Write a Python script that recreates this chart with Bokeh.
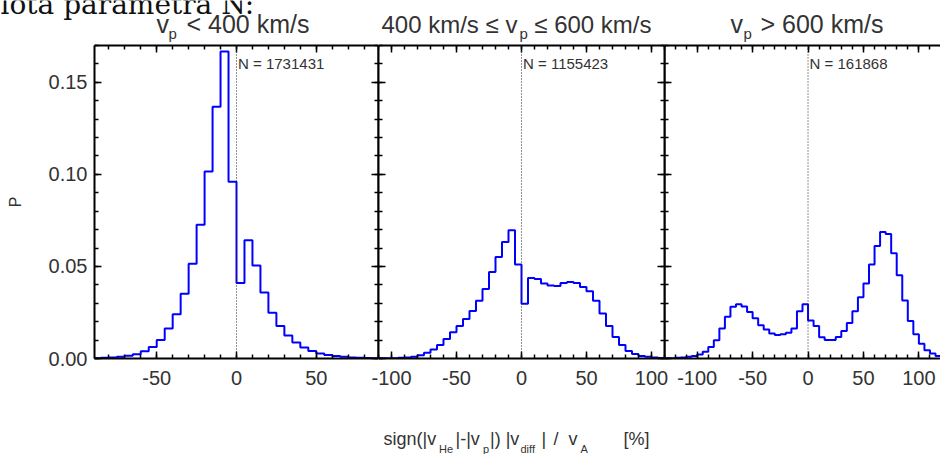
import numpy as np
from bokeh.plotting import figure
from bokeh.layouts import row, column
from bokeh.models import (Range1d, LinearAxis, SingleIntervalTicker,
                          PrintfTickFormatter, CustomJSTickFormatter,
                          CustomLabelingPolicy, Span, Label)
from bokeh.embed import file_html
from bokeh.resources import INLINE

# ---------------- data ----------------
bin_width = 5

# v_p < 400 km/s : bins from -90 to 90
slow_start = -90
slow_p = [0.0002, 0.0004, 0.0006, 0.0010, 0.0015, 0.0023, 0.0040, 0.0063,
          0.0101, 0.0163, 0.0240, 0.0351, 0.0515, 0.0727, 0.1016, 0.1367,
          0.1667, 0.0960,
          0.0410, 0.0642, 0.0505, 0.0358, 0.0248, 0.0177, 0.0125, 0.0087,
          0.0060, 0.0041, 0.0027, 0.0019, 0.0013, 0.0009, 0.0006, 0.0004,
          0.0003, 0.0002]

# 400 <= v_p <= 600 km/s : bins from -110 to 110
mid_start = -110
mid_p = [0.0001, 0.0001, 0.0002, 0.0004, 0.0006, 0.0010, 0.0018, 0.0031,
         0.0049, 0.0074, 0.0106, 0.0143, 0.0177, 0.0215, 0.0258, 0.0313,
         0.0378, 0.0470, 0.0551, 0.0633, 0.0696, 0.0510,
         0.0298, 0.0437, 0.0432, 0.0407, 0.0396, 0.0394, 0.0410, 0.0416,
         0.0410, 0.0389, 0.0365, 0.0313, 0.0244, 0.0177, 0.0117, 0.0074,
         0.0041, 0.0025, 0.0014, 0.0009, 0.0005, 0.0003]

# v_p > 600 km/s : bins from -130 to 130
fast_start = -130
fast_p = [0.0001, 0.0002, 0.0004, 0.0006, 0.0009, 0.0014, 0.0022, 0.0036,
          0.0063, 0.0099, 0.0163, 0.0227, 0.0281, 0.0295, 0.0283, 0.0252,
          0.0219, 0.0181, 0.0157, 0.0136, 0.0128, 0.0132, 0.0140, 0.0163,
          0.0256, 0.0295,
          0.0206, 0.0176, 0.0116, 0.0100, 0.0100, 0.0117, 0.0150, 0.0193,
          0.0257, 0.0333, 0.0407, 0.0510, 0.0611, 0.0687, 0.0676, 0.0572,
          0.0452, 0.0315, 0.0203, 0.0132, 0.0080, 0.0045, 0.0027, 0.0014,
          0.0008, 0.0004]

n_labels = ["N = 1731431", "N = 1155423", "N =  161868"]
x_tick_step = 50
y_tick_step = 0.05
y_lim = (0.0, 0.17)
x_lims = [(-89, 89), (-110, 110), (-129.5, 119.5)]

# ---------------- layout / style ----------------
FONT = "Liberation Sans"
TXT = "#333333"
W = 940
TOP_H = 43          # strip with the page text and panel titles
PAD_T = 2           # panel border above frame
FH = 313            # frame height
PAD_B = 55          # panel border below frame (tick labels)
BOT_H = 454 - TOP_H - PAD_T - FH - PAD_B   # strip with the x-axis title
frames = [(94, 284), (378, 286), (664, 276)]   # frame left, width (page px)
borders = [(94, 0), (12, 12), (0, 0)]
margins = [0, -12, -12]
MID = 0.3465        # baseline -> middle of text box, in font sizes

NO_LABELS = CustomLabelingPolicy(code="""
    for (const i of Array.from(indices)) { indices.unset(i) }
    return indices
""")
EMPTY = CustomJSTickFormatter(code="return ''")


def make_axis(dim, labels, standoff=0):
    if dim == "x":
        ticker = SingleIntervalTicker(interval=x_tick_step, num_minor_ticks=5)
        fmt = PrintfTickFormatter(format="%d")
    else:
        ticker = SingleIntervalTicker(interval=y_tick_step, num_minor_ticks=5)
        fmt = PrintfTickFormatter(format="%.2f")
    ax = LinearAxis(ticker=ticker, formatter=fmt if labels else EMPTY)
    ax.major_tick_in = 7
    ax.major_tick_out = 0
    ax.minor_tick_in = 4
    ax.minor_tick_out = 0
    ax.axis_line_color = "black"
    ax.axis_line_width = 2
    ax.major_tick_line_color = "black"
    ax.major_tick_line_width = 1.5
    ax.minor_tick_line_color = "black"
    ax.minor_tick_line_width = 1.5
    if labels:
        ax.major_label_text_font = FONT
        ax.major_label_text_font_size = "20px"
        ax.major_label_text_color = TXT
        ax.major_label_standoff = standoff
    else:
        ax.major_label_text_font_size = "1px"
        ax.major_label_standoff = 0
        ax.major_label_policy = NO_LABELS
    return ax


def strip(height):
    s = figure(width=W, height=height, title=None,
               x_range=Range1d(0, W), y_range=Range1d(height, 0),
               x_axis_location=None, y_axis_location=None,
               output_backend="svg", toolbar_location=None,
               min_border_left=0, min_border_right=0,
               min_border_top=0, min_border_bottom=0)
    s.grid.visible = False
    s.outline_line_color = None
    s.background_fill_color = None
    s.border_fill_color = None
    return s


def add_text(s, px, base, text, size, font=FONT, color=TXT, align="left"):
    # base: page y of the text baseline; the label is anchored at its middle
    s.add_layout(Label(x=px, y=base - MID * size, text=text, text_font=font,
                       text_font_size=f"{size}px", text_color=color,
                       text_align=align, text_baseline="middle"))


# ---------------- panels ----------------
series = [(slow_start, slow_p), (mid_start, mid_p), (fast_start, fast_p)]
figs = []
for i, (start, vals) in enumerate(series):
    p = figure(frame_width=frames[i][1], frame_height=FH, title=None,
               x_range=Range1d(*x_lims[i]), y_range=Range1d(*y_lim),
               x_axis_location=None, y_axis_location=None,
               output_backend="svg", toolbar_location=None,
               min_border_left=borders[i][0], min_border_right=borders[i][1],
               min_border_top=PAD_T, min_border_bottom=PAD_B)
    p.grid.visible = False
    p.outline_line_color = None
    p.background_fill_color = None
    p.border_fill_color = None
    if margins[i]:
        p.margin = (0, 0, 0, margins[i])

    left = make_axis("y", i == 0, standoff=7)
    if i == 0:
        left.axis_label = "P"
        left.axis_label_text_font = FONT
        left.axis_label_text_font_size = "16px"
        left.axis_label_text_font_style = "normal"
        left.axis_label_text_color = TXT
        left.axis_label_standoff = 22
    p.add_layout(left, "left")
    if i < 2:
        p.add_layout(make_axis("y", False), "right")
    p.add_layout(make_axis("x", True, standoff=12), "below")
    p.add_layout(make_axis("x", False), "above")

    edges = start + bin_width * np.arange(len(vals) + 1)
    yy = list(vals) + [vals[-1]]
    p.step(edges, yy, mode="after", line_color="#0000ff", line_width=2)

    p.add_layout(Span(location=0, dimension="height", line_color="#222222",
                      line_width=1, line_dash="1 2"))
    p.add_layout(Label(x=0, y=y_lim[1], x_offset=1.5, y_offset=-(23.3 - MID * 15),
                       text=n_labels[i], text_font=FONT, text_font_size="15px",
                       text_color=TXT, text_baseline="middle"))
    figs.append(p)

# ---------------- top strip: page text + titles ----------------
top = strip(TOP_H)
add_text(top, 0, 14, "lota parametra N:", 28, font="DejaVu Serif", color="#111111")
TB, SB = 32.3, 38.5
add_text(top, 156, TB, "v", 25)
add_text(top, 168, SB, "p", 15)
add_text(top, 186, TB, "< 400 km/s", 25)

add_text(top, 381, TB, "400 km/s \u2264 v", 24)
add_text(top, 519, SB, "p", 15)
add_text(top, 651, TB, "\u2264 600 km/s", 24, align="right")

add_text(top, 730, TB, "v", 25)
add_text(top, 743, SB, "p", 15)
add_text(top, 760, TB, "> 600 km/s", 25)

# ---------------- bottom strip: x-axis title ----------------
y0 = TOP_H + PAD_T + FH + PAD_B
bot = strip(BOT_H)
XB, XS = 444.7 - y0, 452 - y0
add_text(bot, 383, XB, "sign(|v", 18)
add_text(bot, 438.5, XS, "He", 11)
add_text(bot, 455, XB, "|-|v", 18)
add_text(bot, 482.5, XS, "p", 11)
add_text(bot, 489.5, XB, "|) |v", 18)
add_text(bot, 520, XS, "diff", 11)
add_text(bot, 541, XB, "|", 18)
add_text(bot, 553, XB, "/", 18)
add_text(bot, 568, XB, "v", 18)
add_text(bot, 580, XS, "A", 11)
add_text(bot, 623, XB, "[%]", 18)

layout = column(top, row(*figs, spacing=0), bot, spacing=0)
open("out.html", "w").write(file_html(layout, INLINE))
